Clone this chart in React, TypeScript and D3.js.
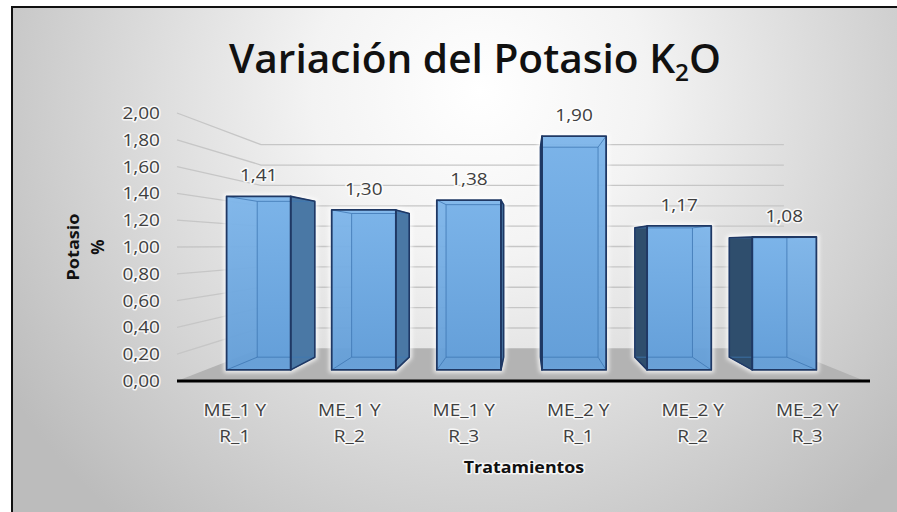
import React, { useRef, useEffect } from 'react';
import * as d3 from 'd3';

const categories = ['ME_1 Y R_1', 'ME_1 Y R_2', 'ME_1 Y R_3', 'ME_2 Y R_1', 'ME_2 Y R_2', 'ME_2 Y R_3'];
const labelTop = ['ME_1 Y', 'ME_1 Y', 'ME_1 Y', 'ME_2 Y', 'ME_2 Y', 'ME_2 Y'];
const labelBottom = ['R_1', 'R_2', 'R_3', 'R_1', 'R_2', 'R_3'];
const potasio = [1.41, 1.30, 1.38, 1.90, 1.17, 1.08];
const yTicks = [0, 0.2, 0.4, 0.6, 0.8, 1.0, 1.2, 1.4, 1.6, 1.8, 2.0];

const W = 897;
const H = 512;
const FONT = "'Open Sans', 'Noto Sans', sans-serif";

const es = d3.formatLocale({ decimal: ',', thousands: '.', grouping: [3], currency: ['', ' €'] });
const fmt = es.format('.2f');

const App = () => {
  const ref = useRef<SVGSVGElement>(null);

  useEffect(() => {
    const svg = d3.select(ref.current);
    svg.selectAll('*').remove();

    // vanishing point for the 3d look
    const vx = 527, vy = 245, shrink = 0.24;
    const proj = (px: number, py: number, z: number): [number, number] => {
      const s = 1 - shrink * z;
      return [vx + (px - vx) * s, vy + (py - vy) * s];
    };

    const x = d3.scaleBand<string>().domain(categories).range([177, 865]).paddingInner(0.39).paddingOuter(0.2);
    const y = d3.scaleLinear().domain([0, 2]).range([381, 113]);
    const zFront = 0.34, zBack = 0.73;

    const defs = svg.append('defs');
    const bg = defs.append('radialGradient').attr('id', 'bg').attr('gradientUnits', 'userSpaceOnUse')
      .attr('cx', 480).attr('cy', 90).attr('r', 560);
    bg.append('stop').attr('offset', 0).attr('stop-color', '#ffffff');
    bg.append('stop').attr('offset', 0.3).attr('stop-color', '#f3f3f3');
    bg.append('stop').attr('offset', 1).attr('stop-color', '#bcbcbc');

    const barGrad = defs.append('linearGradient').attr('id', 'barGrad').attr('x1', 0).attr('y1', 0).attr('x2', 0).attr('y2', 1);
    barGrad.append('stop').attr('offset', 0).attr('stop-color', '#7db5ea');
    barGrad.append('stop').attr('offset', 1).attr('stop-color', '#639ed8');

    const blur = defs.append('filter').attr('id', 'glow').attr('x', -0.2).attr('y', -0.2).attr('width', 1.4).attr('height', 1.4);
    blur.append('feGaussianBlur').attr('stdDeviation', 2);

    svg.append('rect').attr('width', W).attr('height', H).attr('fill', '#ffffff');
    svg.append('rect').attr('x', 12).attr('y', 7).attr('width', W - 12).attr('height', H - 7).attr('fill', 'url(#bg)');
    svg.append('path').attr('d', `M12,${H} V7 H${W}`).attr('fill', 'none').attr('stroke', '#111').attr('stroke-width', 2);

    const text = (str: string, tx: number, ty: number, size: number, weight: string, anchor: string, fill: string, sx = 1.12) =>
      svg.append('text')
        .attr('transform', `translate(${tx},${ty}) scale(${sx},1)`)
        .attr('text-anchor', anchor)
        .attr('font-family', FONT)
        .attr('font-size', size)
        .attr('font-weight', weight)
        .attr('fill', fill)
        .attr('stroke', '#fff').attr('stroke-width', 3).attr('stroke-opacity', 0.8)
        .attr('stroke-linejoin', 'round').attr('paint-order', 'stroke')
        .text(str);

    // title
    const title = svg.append('text').attr('x', 229).attr('y', 73)
      .attr('font-family', FONT).attr('font-size', 40).attr('font-weight', 600).attr('fill', '#111')
      .attr('textLength', 492).attr('lengthAdjust', 'spacingAndGlyphs');
    title.append('tspan').text('Variación del Potasio K');
    title.append('tspan').attr('font-size', 24).attr('dy', 8).text('2');
    title.append('tspan').attr('dy', -8).text('O');

    // floor
    const xl = x.range()[0], xr = x.range()[1];
    const floor = [proj(xl, y(0), 0), proj(xr, y(0), 0), proj(xr, y(0), 1), proj(xl, y(0), 1)];
    svg.append('polygon').attr('points', floor.map(p => p.join(',')).join(' ')).attr('fill', '#b3b3b3');

    // gridlines: side wall + back wall
    const line = d3.line();
    svg.append('g').selectAll('path')
      .data(yTicks.filter(t => t > 0))
      .join('path')
      .attr('d', t => line([proj(xl, y(t), 0), proj(xl, y(t), 1), proj(xr, y(t), 1)]))
      .attr('fill', 'none').attr('stroke', '#c6c6c6').attr('stroke-width', 1.3);

    // axis line
    svg.append('line').attr('x1', xl).attr('x2', xr + 5).attr('y1', y(0)).attr('y2', y(0))
      .attr('stroke', '#fff').attr('stroke-width', 7).attr('stroke-opacity', 0.6).attr('filter', 'url(#glow)');
    svg.append('line').attr('x1', xl).attr('x2', xr + 5).attr('y1', y(0)).attr('y2', y(0))
      .attr('stroke', '#000').attr('stroke-width', 3);

    // bars
    const bw = x.bandwidth();
    const poly = (pts: [number, number][]) => pts.map(p => p.join(',')).join(' ');
    categories.forEach((c, i) => {
      const v = potasio[i];
      const x0 = x(c) as number, x1 = x0 + bw;
      const yb = y(0), yt = y(v);
      const front = [proj(x0, yt, zFront), proj(x1, yt, zFront), proj(x1, yb, zFront), proj(x0, yb, zFront)];
      const back = [proj(x0, yt, zBack), proj(x1, yt, zBack), proj(x1, yb, zBack), proj(x0, yb, zBack)];
      const g = svg.append('g');
      const hull = d3.polygonHull([...front, ...back]) as [number, number][];
      g.append('polygon').attr('points', poly(hull)).attr('fill', 'none')
        .attr('stroke', '#fff').attr('stroke-width', 5).attr('stroke-opacity', 0.9).attr('filter', 'url(#glow)');
      g.append('polygon').attr('points', poly(back)).attr('fill', '#659fd8');

      let side: [number, number][] | null = null;
      let sideFill = '';
      if (x1 < vx) {
        side = [front[1], back[1], back[2], front[2]];
        sideFill = '#4a78a5';
      } else if (x0 > vx) {
        side = [front[0], back[0], back[3], front[3]];
        sideFill = '#2f4e6d';
      }
      if (side) g.append('polygon').attr('points', poly(side)).attr('fill', sideFill);
      g.append('polygon').attr('points', poly(front)).attr('fill', 'url(#barGrad)').attr('fill-opacity', 0.95);

      // edges seen through the bar
      const hidden = g.append('g').attr('fill', 'none').attr('stroke', '#3f77b3').attr('stroke-width', 1).attr('stroke-opacity', 0.8);
      hidden.append('polygon').attr('points', poly(back));
      [0, 1, 2, 3].forEach(k => hidden.append('line')
        .attr('x1', front[k][0]).attr('y1', front[k][1]).attr('x2', back[k][0]).attr('y2', back[k][1]));

      if (side) g.append('polygon').attr('points', poly(side)).attr('fill', 'none')
        .attr('stroke', '#1f3864').attr('stroke-width', 1.6).attr('stroke-linejoin', 'round');
      g.append('polygon').attr('points', poly(front)).attr('fill', 'none')
        .attr('stroke', '#1f3864').attr('stroke-width', 1.8).attr('stroke-linejoin', 'round');

      const cx = (front[0][0] + front[1][0]) / 2;
      text(fmt(v), cx, front[0][1] - 15, 17, 'normal', 'middle', '#404040');
    });

    // y tick labels
    yTicks.forEach(t => text(fmt(t), 160, y(t) + 6, 17, 'normal', 'end', '#404040'));

    // x labels
    categories.forEach((c, i) => {
      const cx = (x(c) as number) + bw / 2;
      text(labelTop[i], cx, 416, 17, 'normal', 'middle', '#404040');
      text(labelBottom[i], cx, 442, 17, 'normal', 'middle', '#404040');
    });

    text('Tratamientos', 524, 473, 15.5, 'bold', 'middle', '#111', 1.15);

    // y axis title
    const yt = svg.append('g').attr('font-family', FONT).attr('font-weight', 'bold').attr('fill', '#111')
      .attr('text-anchor', 'middle');
    yt.append('text').attr('transform', 'translate(79,247) rotate(-90)').attr('font-size', 16)
      .attr('textLength', 67).attr('lengthAdjust', 'spacingAndGlyphs').text('Potasio');
    yt.append('text').attr('transform', 'translate(104,247) rotate(-90)').attr('font-size', 17).text('%');
  }, []);

  return <svg ref={ref} width={W} height={H} style={{ position: 'absolute', left: 0, top: 0, display: 'block' }} />;
};

export default App;
